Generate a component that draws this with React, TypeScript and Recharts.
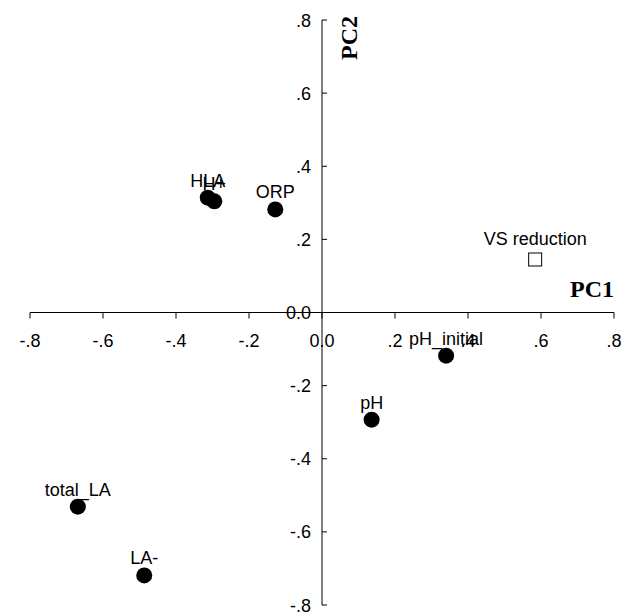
import React from 'react';
import { ScatterChart, Scatter, XAxis, YAxis, ReferenceLine, ReferenceDot } from 'recharts';

const xTicks = [-0.8, -0.6, -0.4, -0.2, 0, 0.2, 0.4, 0.6, 0.8];
const xTickLabels = ['-.8', '-.6', '-.4', '-.2', '0.0', '.2', '.4', '.6', '.8'];
const yTicks = [0.8, 0.6, 0.4, 0.2, 0, -0.2, -0.4, -0.6, -0.8];
const yTickLabels = ['.8', '.6', '.4', '.2', '0.0', '-.2', '-.4', '-.6', '-.8'];

const variableNames = ['HLA', 'H+', 'ORP', 'pH_initial', 'pH', 'total_LA', 'LA-'];
const pc1Loadings = [-0.313, -0.295, -0.128, 0.34, 0.136, -0.669, -0.487];
const pc2Loadings = [0.314, 0.304, 0.282, -0.118, -0.293, -0.531, -0.719];

const responseNames = ['VS reduction'];
const responsePc1 = [0.584];
const responsePc2 = [0.145];

const SANS = "'Liberation Sans', Arial, sans-serif";
const SERIF = "'Liberation Serif', 'Times New Roman', serif";

const variableData = variableNames.map((name, i) => ({ name, x: pc1Loadings[i], y: pc2Loadings[i] }));
const responseData = responseNames.map((name, i) => ({ name, x: responsePc1[i], y: responsePc2[i] }));

const DotShape = (props: any) => {
  const { cx, cy, payload } = props;
  return (
    <g>
      <text x={cx} y={cy - 11} textAnchor="middle" fontSize={18} fontFamily={SANS} fill="#000">
        {payload.name}
      </text>
      <circle cx={cx} cy={cy} r={8} fill="#000" />
    </g>
  );
};

const SquareShape = (props: any) => {
  const { cx, cy, payload } = props;
  return (
    <g>
      <text x={cx} y={cy - 14} textAnchor="middle" fontSize={18} fontFamily={SANS} fill="#000">
        {payload.name}
      </text>
      <rect x={cx - 6.5} y={cy - 6.5} width={13} height={13} fill="#fff" stroke="#000" strokeWidth={1} />
    </g>
  );
};

const xTickShape = (label: string) => (props: any) => {
  const { cx, cy } = props;
  return (
    <g>
      <line x1={cx} y1={cy} x2={cx} y2={cy + 6} stroke="#000" strokeWidth={1} />
      <text x={cx} y={cy + 34} textAnchor="middle" fontSize={18} fontFamily={SANS} fill="#000">
        {label}
      </text>
    </g>
  );
};

const yTickShape = (label: string) => (props: any) => {
  const { cx, cy } = props;
  return (
    <g>
      <line x1={cx} y1={cy} x2={cx + 5} y2={cy} stroke="#000" strokeWidth={1} />
      <text x={cx - 11} y={cy + 6.5} textAnchor="end" fontSize={18} fontFamily={SANS} fill="#000">
        {label}
      </text>
    </g>
  );
};

const pc1Shape = (props: any) => {
  const { cx, cy } = props;
  return (
    <text x={cx} y={cy - 16} textAnchor="end" fontSize={24} fontWeight="bold" fontFamily={SERIF} fill="#000">
      PC1
    </text>
  );
};

const pc2Shape = (props: any) => {
  const { cx, cy } = props;
  const tx = cx + 35;
  const ty = cy + 18;
  return (
    <text
      x={tx}
      y={ty}
      transform={`rotate(-90 ${tx} ${ty})`}
      textAnchor="middle"
      fontSize={24}
      fontWeight="bold"
      fontFamily={SERIF}
      fill="#000"
    >
      PC2
    </text>
  );
};

export default function App() {
  return (
    <ScatterChart width={625} height={608} margin={{ top: 12, right: 19, bottom: 11, left: 22 }}>
      <XAxis type="number" dataKey="x" domain={[-0.8, 0.8]} hide />
      <YAxis type="number" dataKey="y" domain={[-0.8, 0.8]} hide />
      <ReferenceLine segment={[{ x: -0.8, y: 0 }, { x: 0.8, y: 0 }]} stroke="#000" strokeWidth={1} />
      <ReferenceLine segment={[{ x: 0, y: -0.8 }, { x: 0, y: 0.8 }]} stroke="#000" strokeWidth={1} />
      {xTicks.map((t, i) => (
        <ReferenceDot key={'xt' + i} x={t} y={0} r={0} shape={xTickShape(xTickLabels[i])} />
      ))}
      {yTicks.map((t, i) => (
        <ReferenceDot key={'yt' + i} x={0} y={t} r={0} shape={yTickShape(yTickLabels[i])} />
      ))}
      <ReferenceDot x={0.8} y={0} r={0} shape={pc1Shape} />
      <ReferenceDot x={0} y={0.8} r={0} shape={pc2Shape} />
      <Scatter data={variableData} shape={DotShape} isAnimationActive={false} />
      <Scatter data={responseData} shape={SquareShape} isAnimationActive={false} />
    </ScatterChart>
  );
}
